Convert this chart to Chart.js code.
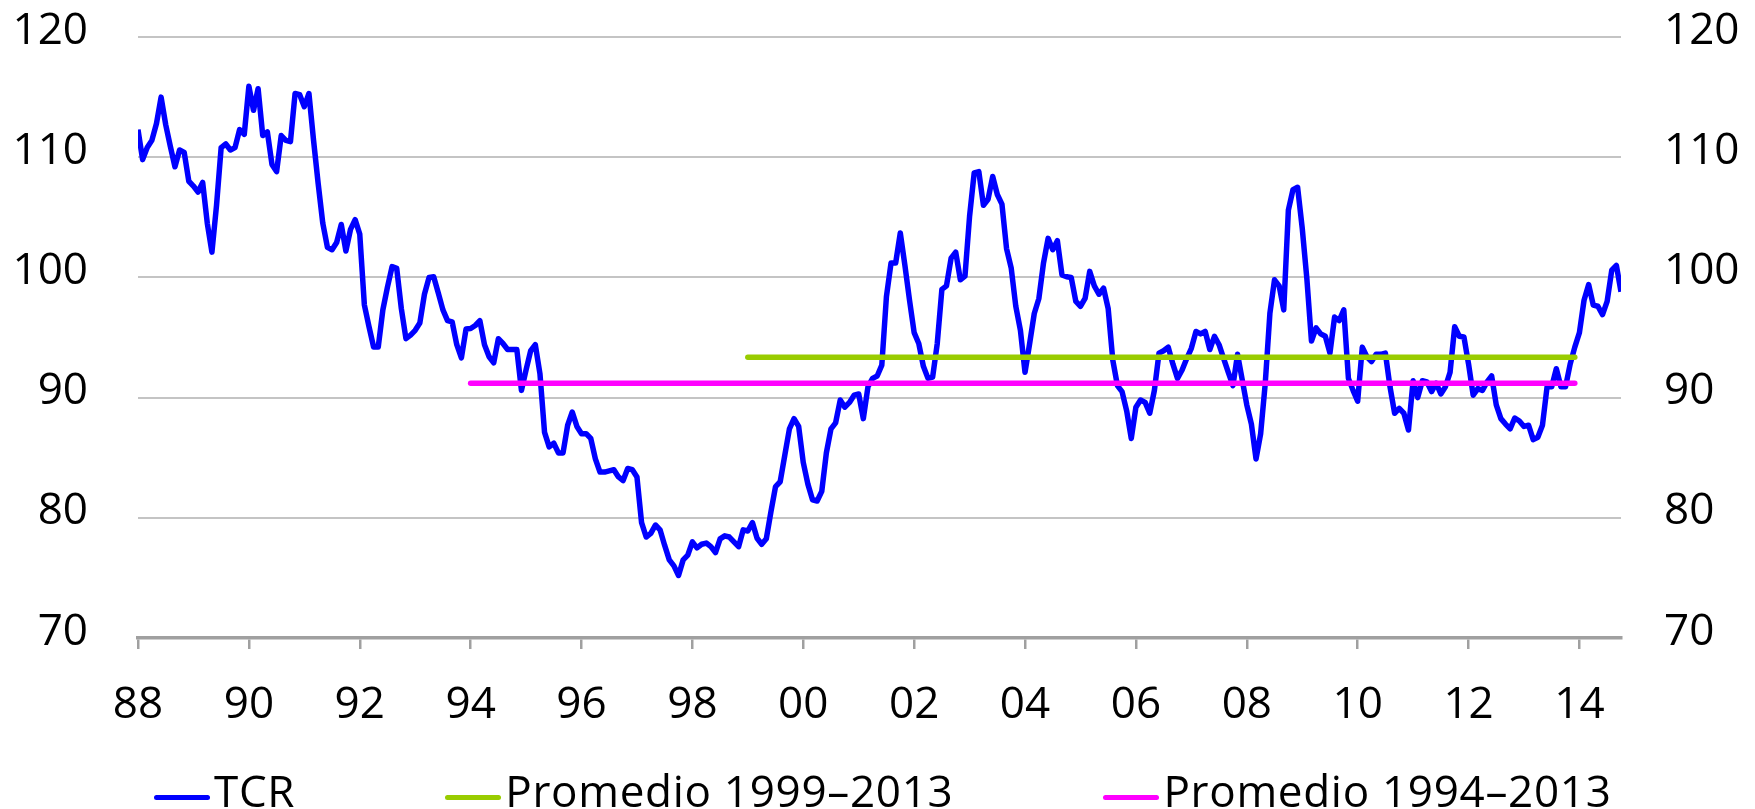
<!DOCTYPE html>
<html>
<head>
<meta charset="utf-8">
<script src="https://cdn.jsdelivr.net/npm/chart.js@4/dist/chart.umd.min.js"></script>
<style>
  html, body { margin: 0; padding: 0; background: #fff; }
  .wrap { position: relative; width: 1755px; height: 809px; }
  .legend {
    position: absolute; left: 154px; top: 768px;
    display: flex; gap: 150px;
    font-family: 'Open Sans', 'DejaVu Sans Condensed', sans-serif;
    font-size: 44px; line-height: 44px; letter-spacing: 0.7px; color: #000;
  }
  .legend-item { display: flex; align-items: center; white-space: nowrap; }
  .legend-item i { display: inline-block; width: 56px; height: 5px; border-radius: 3px; margin: 14px 4px 0 0; }
</style>
</head>
<body>
<div class="wrap">
  <canvas id="chart" width="1755" height="809"></canvas>
  <div class="legend" id="legend"></div>
</div>
<script>
// TCR mensual, ene-1988 a oct-2014 (una fila por año)
const tcr = [
  112.3, 109.8, 110.8, 111.4, 112.8, 115.0, 112.7, 110.9, 109.2, 110.6, 110.4, 108.0,
  107.6, 107.1, 107.9, 104.5, 102.1, 106.0, 110.8, 111.1, 110.6, 110.8, 112.3, 111.9,
  115.9, 113.9, 115.7, 111.8, 112.1, 109.4, 108.8, 111.8, 111.4, 111.3, 115.3, 115.2,
  114.2, 115.3, 111.4, 107.8, 104.5, 102.5, 102.3, 102.9, 104.4, 102.2, 104.0, 104.8,
  103.6, 97.7, 95.9, 94.2, 94.2, 97.3, 99.2, 100.9, 100.75, 97.4, 94.9, 95.2,
  95.6, 96.2, 98.6, 100.0, 100.05, 98.7, 97.3, 96.4, 96.3, 94.4, 93.3, 95.7,
  95.75, 96.0, 96.4, 94.4, 93.4, 92.9, 94.9, 94.5, 94.0, 94.0, 94.0, 90.6,
  92.3, 93.9, 94.4, 92.0, 87.1, 85.9, 86.2, 85.4, 85.4, 87.7, 88.8, 87.6,
  87.0, 87.0, 86.6, 84.9, 83.8, 83.8, 83.9, 84.0, 83.4, 83.1, 84.1, 84.0,
  83.4, 79.6, 78.4, 78.7, 79.4, 79.0, 77.7, 76.5, 76.0, 75.2, 76.5, 76.9,
  78.0, 77.5, 77.8, 77.9, 77.6, 77.1, 78.25, 78.5, 78.4, 78.0, 77.6, 79.0,
  78.9, 79.6, 78.3, 77.8, 78.25, 80.5, 82.6, 83.0, 85.2, 87.4, 88.25, 87.6,
  84.6, 82.8, 81.5, 81.4, 82.2, 85.4, 87.4, 87.9, 89.8, 89.2, 89.6, 90.2,
  90.3, 88.25, 90.9, 91.6, 91.8, 92.7, 98.4, 101.2, 101.2, 103.7, 101.0, 98.1,
  95.4, 94.5, 92.6, 91.6, 91.7, 94.5, 99.0, 99.3, 101.6, 102.1, 99.8, 100.1,
  105.1, 108.7, 108.8, 106.0, 106.5, 108.4, 106.9, 106.1, 102.4, 100.8, 97.6, 95.6,
  92.1, 94.5, 97.0, 98.25, 101.2, 103.25, 102.3, 103.05, 100.2, 100.05, 100.0, 98.0,
  97.6, 98.25, 100.5, 99.3, 98.6, 99.1, 97.4, 93.1, 91.0, 90.5, 88.9, 86.6,
  89.2, 89.8, 89.6, 88.7, 90.6, 93.7, 93.9, 94.2, 92.8, 91.6, 92.3, 93.25,
  94.1, 95.5, 95.3, 95.5, 94.0, 95.1, 94.4, 93.25, 92.1, 91.0, 93.6, 91.5,
  89.4, 87.8, 84.9, 87.0, 91.2, 97.0, 99.8, 99.3, 97.3, 105.6, 107.3, 107.5,
  104.1, 99.9, 94.7, 95.8, 95.3, 95.1, 93.7, 96.7, 96.4, 97.3, 91.6, 90.6,
  89.7, 94.2, 93.4, 93.0, 93.6, 93.6, 93.7, 90.9, 88.7, 89.1, 88.7, 87.3,
  91.4, 90.0, 91.4, 91.3, 90.5, 91.2, 90.3, 90.9, 92.1, 95.9, 95.1, 95.05,
  92.8, 90.2, 90.75, 90.6, 91.3, 91.8, 89.4, 88.25, 87.8, 87.4, 88.3, 88.05,
  87.6, 87.7, 86.5, 86.7, 87.7, 90.9, 90.9, 92.4, 90.9, 90.9, 92.8, 94.2,
  95.4, 98.1, 99.4, 97.7, 97.6, 96.9, 98.0, 100.6, 101.0, 98.8
];
const firstYear = 1988;

const avgLabels = ['Promedio 1999–2013', 'Promedio 1994–2013'];
const avgValues = [93.35, 91.2];
const avgFrom = [1999, 1994];
const avgTo = [2013, 2013];
const avgColors = ['#99cc00', '#ff00ff'];

const yearTicks = ['88', '90', '92', '94', '96', '98', '00', '02', '04', '06', '08', '10', '12', '14'];
const yTicks = [70, 80, 90, 100, 110, 120];

const FONT = "'Open Sans', 'DejaVu Sans Condensed', sans-serif";
const tickFont = { family: FONT, size: 44 };

const monthIdx = (year, m) => (year - firstYear) * 12 + m;

const datasets = [
  {
    label: 'TCR',
    data: tcr.map((v, i) => ({ x: i, y: v })),
    borderColor: '#0000ff', backgroundColor: '#0000ff',
    borderWidth: 5.5, borderJoinStyle: 'round', pointRadius: 0, order: 3
  }
];
avgLabels.forEach((lbl, k) => {
  datasets.push({
    label: lbl,
    data: [
      { x: monthIdx(avgFrom[k], 0), y: avgValues[k] },
      { x: monthIdx(avgTo[k], 11), y: avgValues[k] }
    ],
    borderColor: avgColors[k], backgroundColor: avgColors[k],
    borderWidth: 5.5, borderCapStyle: 'round', pointRadius: 0, order: 1 + k
  });
});

const yScale = (pos, pad, width) => ({
  type: 'linear', position: pos,
  min: yTicks[0], max: yTicks[yTicks.length - 1],
  afterBuildTicks: s => { s.ticks = yTicks.map(v => ({ value: v })); },
  // la separación de las etiquetas no debe empujar el área del gráfico
  afterFit: s => { s.width = width; s.paddingTop = 0; s.paddingBottom = 0; },
  ticks: { font: tickFont, color: '#000', padding: pad, labelOffset: -6 },
  border: { display: false },
  grid: pos === 'left' ? {
    drawTicks: false, lineWidth: 2,
    color: c => c.tick && c.tick.value === yTicks[0] ? 'rgba(0,0,0,0)' : '#c4c4c4'
  } : { display: false, drawTicks: false }
});

const chart = new Chart(document.getElementById('chart'), {
  type: 'line',
  data: { datasets },
  options: {
    responsive: false,
    animation: false,
    layout: { padding: { top: 37, bottom: 71, left: 0, right: 0 } },
    plugins: { legend: { display: false }, tooltip: { enabled: false } },
    scales: {
      x: {
        type: 'linear', min: 0, max: tcr.length - 1, offset: false,
        afterFit: s => { s.height = 100; },
        ticks: {
          stepSize: 24, includeBounds: false, autoSkip: false, maxRotation: 0,
          font: tickFont, color: '#000', padding: 30,
          callback: v => yearTicks[v / 24]
        },
        grid: { drawOnChartArea: false, drawTicks: true, tickLength: 11, color: '#a0a0a0', lineWidth: 2.5 },
        border: { display: true, color: '#a0a0a0', width: 3.5 }
      },
      y: yScale('left', 50, 138),
      y2: yScale('right', 43, 134)
    }
  }
});

// leyenda en HTML a partir de los datasets
const legendEl = document.getElementById('legend');
chart.data.datasets.forEach(ds => {
  const item = document.createElement('div');
  item.className = 'legend-item';
  const sw = document.createElement('i');
  sw.style.background = ds.borderColor;
  item.appendChild(sw);
  item.appendChild(document.createTextNode(ds.label));
  legendEl.appendChild(item);
});
</script>
</body>
</html>
